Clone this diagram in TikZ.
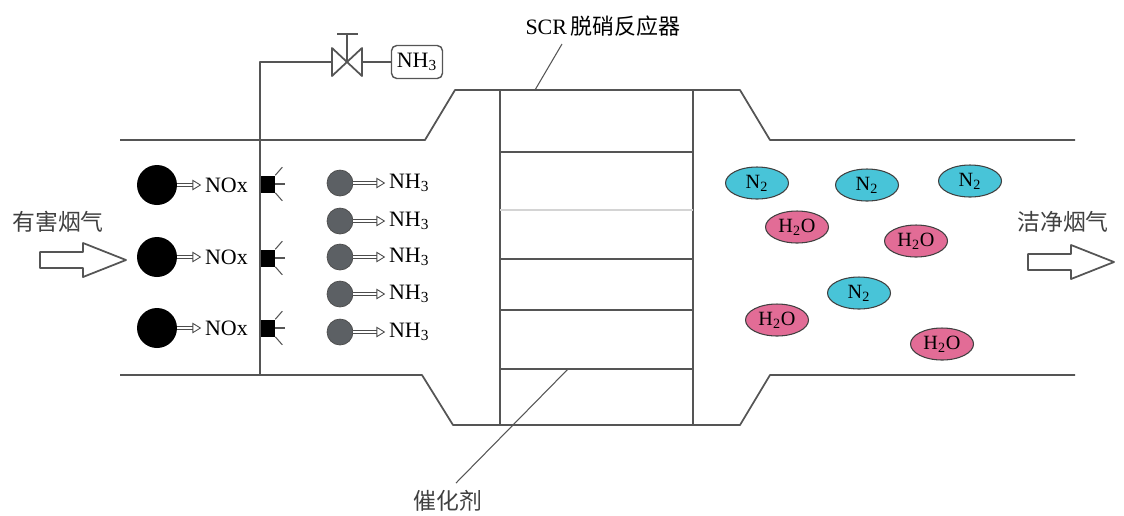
\documentclass[tikz,border=0pt]{standalone}
\usepackage{fontspec}
\setmainfont{Liberation Serif}
\newfontfamily\cjk{Noto Sans CJK SC}
\usetikzlibrary{positioning, shapes.geometric, arrows.meta, calc}
\definecolor{wallgray}{RGB}{85,85,85}
\definecolor{gascyan}{RGB}{72,196,216}
\definecolor{gaspink}{RGB}{226,108,150}
\definecolor{ammonia}{RGB}{92,96,100}

\begin{document}
\begin{tikzpicture}[x=0.02cm, y=-0.02cm, line join=round,
  wall/.style={draw=wallgray, line width=1pt},
  thin wall/.style={draw=wallgray, line width=0.6pt},
  lbl/.style={font=\fontsize{12.5}{14}\selectfont, inner sep=1pt},
  cjklbl/.style={font=\cjk\fontsize{13}{15}\selectfont, text=black!75},
  noxball/.style={circle, fill=black, minimum size=0.8cm, inner sep=0pt},
  nhball/.style={circle, fill=ammonia, draw=black!70, line width=0.4pt, minimum size=0.52cm, inner sep=0pt},
  nozzle/.style={rectangle, fill=black, minimum width=0.28cm, minimum height=0.34cm, inner sep=0pt},
  tank/.style={rectangle, rounded corners=3pt, draw=wallgray, line width=0.8pt, minimum width=1.02cm, minimum height=0.66cm, inner sep=1pt, font=\fontsize{12.5}{14}\selectfont},
  molecule/.style={ellipse, draw=black!75, line width=0.6pt, minimum width=1.26cm, minimum height=0.64cm, inner sep=0pt, font=\fontsize{11.5}{12}\selectfont},
  nmol/.style={molecule, fill=gascyan},
  hmol/.style={molecule, fill=gaspink},
  hollow/.style={draw=black!70, double=white, double distance=1.4pt, line width=0.5pt, shorten >=1pt, -{Triangle[open, length=5pt, width=6pt]}},
  leader/.style={draw=wallgray, line width=0.6pt},
  flowarrow/.pic={\draw[wall, fill=white] (0,-8) -- (43,-8) -- (43,-17) -- (86,0) -- (43,17) -- (43,8) -- (0,8) -- cycle;}]
\useasboundingbox (0,0) rectangle (1124,515);

% duct walls with the widened reactor housing
\draw[wall] (120,140) -- (425,140) -- (455,90) -- (740,90) -- (770,140) -- (1075,140);
\draw[wall] (120,375) -- (422,375) -- (453,425) -- (740,425) -- (770,375) -- (1075,375);

% catalyst layers
\draw[wall] (500,90) -- (500,425);
\draw[wall] (693,90) -- (693,425);
\foreach \y in {152,259,310,369}
  \draw[wall] (500,\y) -- (693,\y);
\draw[wall, draw=wallgray!25] (500,210) -- (693,210);

% ammonia feed: valve and tank
\coordinate (valve) at (347,62);
\node[tank] (nh3tank) at (417,62) {NH\textsubscript{3}};
\draw[wall] (260,375) -- (260,62) -- (332,62);
\draw[wall] (332,48) -- (332,76) -- (362,48) -- (362,76) -- cycle;
\draw[wall] (valve) -- (347,34);
\draw[wall] (337,34) -- (358,34);
\draw[wall] (362,62) -- (nh3tank.west);

% injection nozzles
\foreach \i/\y in {1/184, 2/258, 3/328} {
  \node[nozzle] (noz\i) at (268,\y) {};
  \draw[thin wall] (noz\i.north east) -- ++(7,-8);
  \draw[thin wall] (noz\i.east) -- ++(10,0);
  \draw[thin wall] (noz\i.south east) -- ++(7,8);
}

% NOx in the raw flue gas
\foreach \i/\y in {1/185, 2/257, 3/328} {
  \node[noxball] (nox\i) at (157,\y) {};
  \node[lbl, anchor=west] (noxlbl\i) at (203,\y) {NOx};
  \draw[hollow] (nox\i) -- (noxlbl\i);
}

% injected ammonia
\foreach \i/\y in {1/183, 2/221, 3/257, 4/294, 5/332} {
  \node[nhball] (nh\i) at (340,\y) {};
  \node[lbl, anchor=west] (nhlbl\i) at (387,\y) {NH\textsubscript{3}};
  \draw[hollow] (nh\i) -- (nhlbl\i);
}

% products behind the catalyst
\node[nmol] (n1) at (757,183) {N\textsubscript{2}};
\node[nmol] (n2) at (867,185) {N\textsubscript{2}};
\node[nmol] (n3) at (970,181) {N\textsubscript{2}};
\node[nmol] (n4) at (859,293) {N\textsubscript{2}};
\node[hmol] (h1) at (797,227) {H\textsubscript{2}O};
\node[hmol] (h2) at (916,241) {H\textsubscript{2}O};
\node[hmol] (h3) at (777,320) {H\textsubscript{2}O};
\node[hmol] (h4) at (942,344) {H\textsubscript{2}O};

% gas in and out
\node[cjklbl] (dirty) at (58,222) {有害烟气};
\pic at (40,260) {flowarrow};
\node[cjklbl] (clean) at (1063,222) {洁净烟气};
\pic at (1028,262) {flowarrow};

% callouts
\node[lbl, font=\fontsize{12.5}{14}\selectfont] (scr) at (603,26) {SCR\,{\cjk 脱硝反应器}};
\coordinate (scrtip) at (535,90);
\draw[leader] (562,44) -- (scrtip);
\node[cjklbl] (cat) at (448,501) {催化剂};
\coordinate (cattip) at (568,369);
\draw[leader] (456,483) -- (cattip);
\end{tikzpicture}
\end{document}
